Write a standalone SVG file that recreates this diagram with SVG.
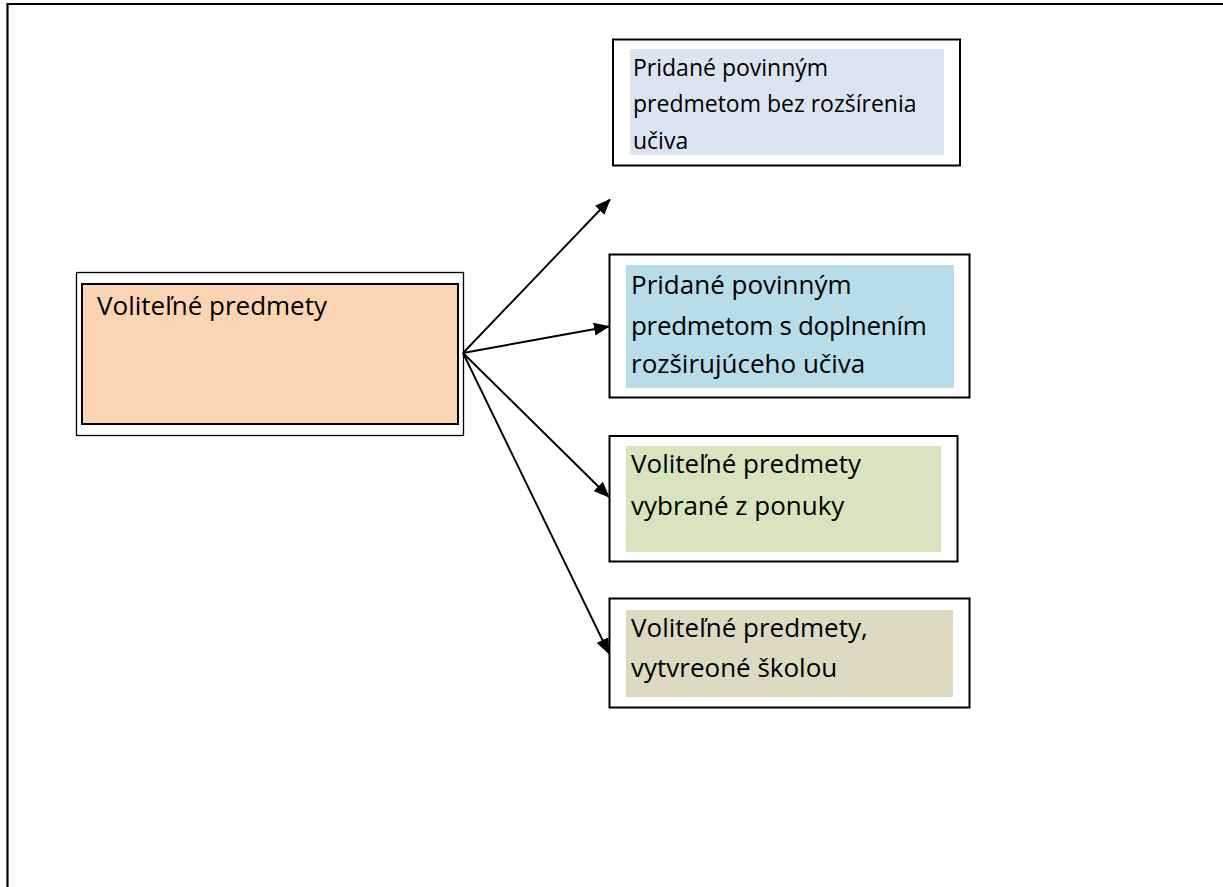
<svg xmlns="http://www.w3.org/2000/svg" width="1223" height="887" viewBox="0 0 1223 887">
<defs>
<style>
.frame{fill:none;stroke:#000;stroke-width:2.2}
.box{fill:#fff;stroke:#000;stroke-width:2}
.t{font-family:"Open Sans","Noto Sans",sans-serif;font-size:26px;fill:#000}
.s{font-size:23px}
.conn{stroke:#000;stroke-width:1.9;fill:none;marker-end:url(#ah)}
</style>
<marker id="ah" markerWidth="16" markerHeight="13" refX="15" refY="6.5" orient="auto" markerUnits="userSpaceOnUse">
<path d="M0,0 L16,6.5 L0,13 Z" fill="#000"/>
</marker>
</defs>
<rect width="1223" height="887" fill="#fff"/>
<path class="frame" d="M7.5,887 V4 H1223"/>

<g id="main">
<rect x="76.5" y="272.5" width="387" height="163" fill="#fff" stroke="#000" stroke-width="1.3"/>
<rect x="82" y="284" width="376" height="140" fill="#fbd4b4" stroke="#000" stroke-width="2"/>
<text class="t" x="97" y="315">Voliteľné predmety</text>
</g>

<g id="n1">
<rect class="box" x="613" y="39.5" width="347" height="126"/>
<rect x="630" y="49" width="314" height="106" fill="#dbe5f1"/>
<text class="t s" x="633" y="76">Pridané povinným</text>
<text class="t s" x="633" y="112">predmetom bez rozšírenia</text>
<text class="t s" x="633" y="149">učiva</text>
</g>

<g id="n2">
<rect class="box" x="609.5" y="254.5" width="360" height="143"/>
<rect x="626" y="265" width="328" height="123" fill="#b7dde8"/>
<text class="t" x="631" y="294">Pridané povinným</text>
<text class="t" x="631" y="335" letter-spacing="-0.3">predmetom s doplnením</text>
<text class="t" x="631" y="373">rozširujúceho učiva</text>
</g>

<g id="n3">
<rect class="box" x="609.5" y="436" width="348" height="125.5"/>
<rect x="626" y="446" width="315" height="106" fill="#d7e4bd"/>
<text class="t" x="631" y="473">Voliteľné predmety</text>
<text class="t" x="631" y="515">vybrané z ponuky</text>
</g>

<g id="n4">
<rect class="box" x="609.5" y="598.5" width="360" height="109"/>
<rect x="626" y="610" width="327" height="87" fill="#ddd9c3"/>
<text class="t" x="631" y="637">Voliteľné predmety,</text>
<text class="t" x="631" y="677">vytvreoné školou</text>
</g>

<g id="connectors">
<line class="conn" x1="463" y1="353" x2="610" y2="199.5"/>
<line class="conn" x1="463" y1="353" x2="609" y2="326.5"/>
<line class="conn" x1="463" y1="353" x2="609" y2="497"/>
<line class="conn" x1="463" y1="353" x2="609" y2="653.5"/>
</g>
</svg>
